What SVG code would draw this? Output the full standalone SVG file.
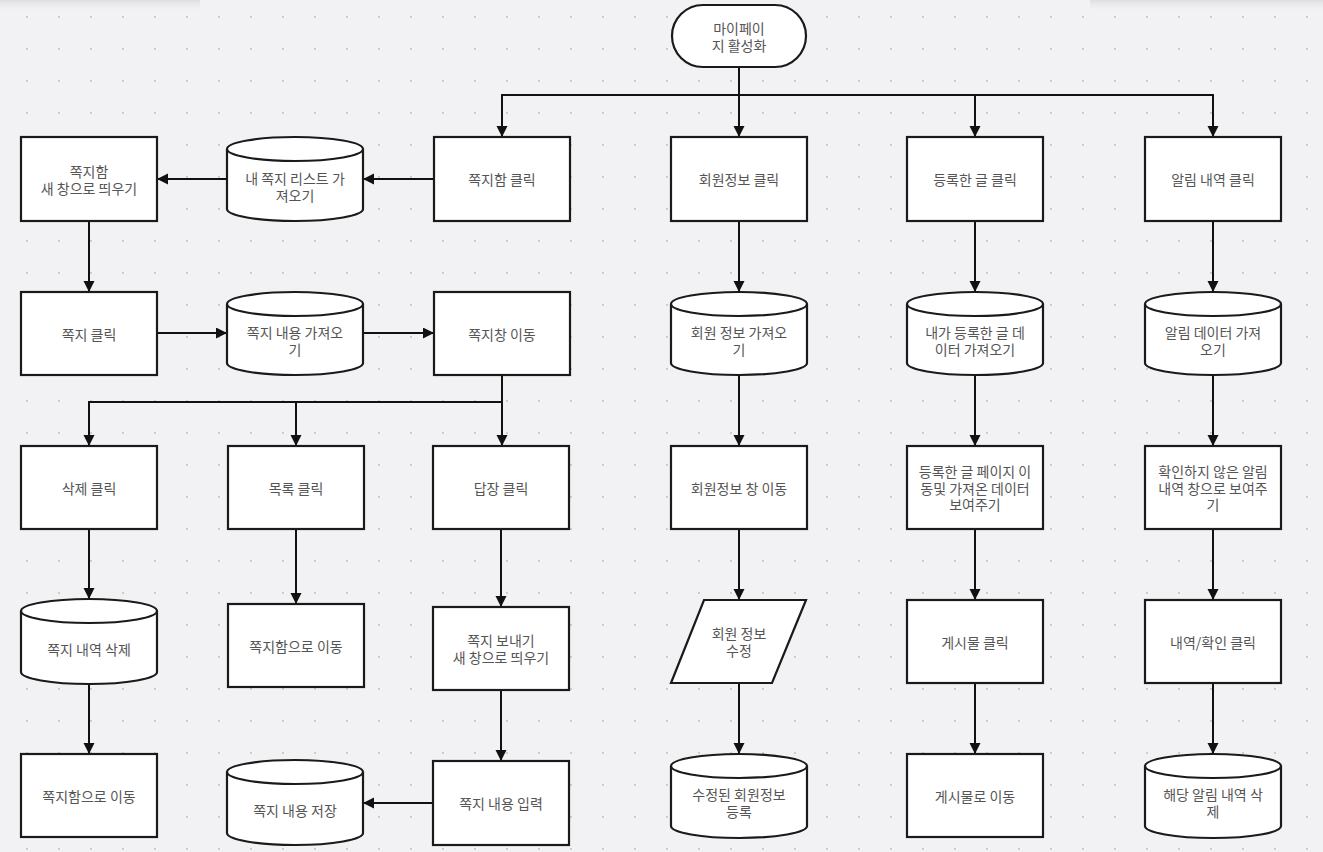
<svg xmlns="http://www.w3.org/2000/svg" width="1323" height="852" viewBox="0 0 1323 852">
<defs>
<pattern id="grid" x="26" y="16" width="32" height="32" patternUnits="userSpaceOnUse">
<rect x="0" y="0" width="2" height="2" fill="#cdcdd1"/>
</pattern>
<linearGradient id="shadeV" x1="0" y1="0" x2="0" y2="1">
<stop offset="0" stop-color="#dcdcdf" stop-opacity="0.9"/>
<stop offset="1" stop-color="#f2f2f4" stop-opacity="0"/>
</linearGradient>
<marker id="arr" markerUnits="userSpaceOnUse" markerWidth="12" markerHeight="12" refX="11" refY="5.5" orient="auto">
<path d="M0,0 L11,5.5 L0,11 Z" fill="#111"/>
</marker>
<style>
.shape{fill:#ffffff;stroke:#1a1a1a;stroke-width:2.2}
.edge{fill:none;stroke:#111;stroke-width:2;marker-end:url(#arr)}
.lbl{font-family:"Noto Sans CJK KR","Noto Sans",sans-serif;font-size:14px;fill:#555;text-anchor:middle;dominant-baseline:central}
</style>
</defs>
<rect width="1323" height="852" fill="#f2f2f4"/>
<rect width="1323" height="852" fill="url(#grid)"/>
<rect x="0" y="0" width="200" height="12" fill="url(#shadeV)"/>
<rect x="1090" y="0" width="233" height="12" fill="url(#shadeV)"/>

<g id="connectors">
<path class="edge" d="M739,67 V95 H502 V137"/>
<path class="edge" d="M739,67 V137"/>
<path class="edge" d="M739,95 H975 V137"/>
<path class="edge" d="M975,95 H1213 V137"/>
<path class="edge" d="M434,179 H363"/>
<path class="edge" d="M227,179 H157"/>
<path class="edge" d="M89,221 V292"/>
<path class="edge" d="M157,333 H227"/>
<path class="edge" d="M363,333 H434"/>
<path class="edge" d="M502,375 V402 H89 V446"/>
<path class="edge" d="M502,402 H296 V446"/>
<path class="edge" d="M502,375 V446"/>
<path class="edge" d="M89,529 V599"/>
<path class="edge" d="M89,684 V754"/>
<path class="edge" d="M296,529 V604"/>
<path class="edge" d="M501,529 V607"/>
<path class="edge" d="M501,690 V761"/>
<path class="edge" d="M433,803 H363"/>
<path class="edge" d="M739,221 V292"/>
<path class="edge" d="M739,375 V446"/>
<path class="edge" d="M739,529 V600"/>
<path class="edge" d="M739,683 V754"/>
<path class="edge" d="M975,221 V292"/>
<path class="edge" d="M975,375 V446"/>
<path class="edge" d="M975,529 V600"/>
<path class="edge" d="M975,683 V754"/>
<path class="edge" d="M1213,221 V292"/>
<path class="edge" d="M1213,375 V446"/>
<path class="edge" d="M1213,529 V600"/>
<path class="edge" d="M1213,683 V754"/>
</g>

<g id="start">
<rect class="shape" x="672" y="5" width="134" height="62" rx="31" ry="31"/>
<text class="lbl"><tspan x="739" y="27.5">마이페이</tspan><tspan x="739" y="44.5">지 활성화</tspan></text>
</g>

<g id="n-msgbox-new">
<rect class="shape" x="21" y="137" width="136" height="84"/>
<text class="lbl"><tspan x="89" y="170.5">쪽지함</tspan><tspan x="89" y="187.5">새 창으로 띄우기</tspan></text>
</g>
<g id="n-list-fetch">
<path class="shape" d="M227,149 A68,12 0 0 1 363,149 L363,209 A68,12 0 0 1 227,209 Z"/>
<path class="shape" fill="none" style="fill:none" d="M227,149 A68,12 0 0 0 363,149"/>
<text class="lbl"><tspan x="295" y="178">내 쪽지 리스트 가</tspan><tspan x="295" y="195">져오기</tspan></text>
</g>
<g id="n-msgbox-click">
<rect class="shape" x="434" y="137" width="136" height="84"/>
<text class="lbl" x="502" y="179">쪽지함 클릭</text>
</g>
<g id="n-member-click">
<rect class="shape" x="671" y="137" width="136" height="84"/>
<text class="lbl" x="739" y="179">회원정보 클릭</text>
</g>
<g id="n-posts-click">
<rect class="shape" x="907" y="137" width="136" height="84"/>
<text class="lbl" x="975" y="179">등록한 글 클릭</text>
</g>
<g id="n-alarm-click">
<rect class="shape" x="1145" y="137" width="136" height="84"/>
<text class="lbl" x="1213" y="179">알림 내역 클릭</text>
</g>

<g id="n-msg-click">
<rect class="shape" x="21" y="292" width="136" height="83"/>
<text class="lbl" x="89" y="333.5">쪽지 클릭</text>
</g>
<g id="n-msg-fetch">
<path class="shape" d="M227,304 A68,12 0 0 1 363,304 L363,363 A68,12 0 0 1 227,363 Z"/>
<path class="shape" style="fill:none" d="M227,304 A68,12 0 0 0 363,304"/>
<text class="lbl"><tspan x="295" y="331.5">쪽지 내용 가져오</tspan><tspan x="295" y="348.5">기</tspan></text>
</g>
<g id="n-msg-window">
<rect class="shape" x="434" y="292" width="136" height="83"/>
<text class="lbl" x="502" y="333.5">쪽지창 이동</text>
</g>
<g id="n-member-fetch">
<path class="shape" d="M671,304 A68,12 0 0 1 807,304 L807,363 A68,12 0 0 1 671,363 Z"/>
<path class="shape" style="fill:none" d="M671,304 A68,12 0 0 0 807,304"/>
<text class="lbl"><tspan x="739" y="331.5">회원 정보 가져오</tspan><tspan x="739" y="348.5">기</tspan></text>
</g>
<g id="n-posts-fetch">
<path class="shape" d="M907,304 A68,12 0 0 1 1043,304 L1043,363 A68,12 0 0 1 907,363 Z"/>
<path class="shape" style="fill:none" d="M907,304 A68,12 0 0 0 1043,304"/>
<text class="lbl"><tspan x="975" y="331.5">내가 등록한 글 데</tspan><tspan x="975" y="348.5">이터 가져오기</tspan></text>
</g>
<g id="n-alarm-fetch">
<path class="shape" d="M1145,304 A68,12 0 0 1 1281,304 L1281,363 A68,12 0 0 1 1145,363 Z"/>
<path class="shape" style="fill:none" d="M1145,304 A68,12 0 0 0 1281,304"/>
<text class="lbl"><tspan x="1213" y="331.5">알림 데이터 가져</tspan><tspan x="1213" y="348.5">오기</tspan></text>
</g>

<g id="n-delete-click">
<rect class="shape" x="21" y="446" width="136" height="83"/>
<text class="lbl" x="89" y="487.5">삭제 클릭</text>
</g>
<g id="n-list-click">
<rect class="shape" x="228" y="446" width="136" height="83"/>
<text class="lbl" x="296" y="487.5">목록 클릭</text>
</g>
<g id="n-reply-click">
<rect class="shape" x="433" y="446" width="136" height="83"/>
<text class="lbl" x="501" y="487.5">답장 클릭</text>
</g>
<g id="n-member-window">
<rect class="shape" x="671" y="446" width="136" height="83"/>
<text class="lbl" x="739" y="487.5">회원정보 창 이동</text>
</g>
<g id="n-posts-page">
<rect class="shape" x="907" y="446" width="136" height="83"/>
<text class="lbl"><tspan x="975" y="470.5">등록한 글 페이지 이</tspan><tspan x="975" y="487.5">동및 가져온 데이터</tspan><tspan x="975" y="504">보여주기</tspan></text>
</g>
<g id="n-alarm-show">
<rect class="shape" x="1145" y="446" width="136" height="83"/>
<text class="lbl"><tspan x="1213" y="470.5">확인하지 않은 알림</tspan><tspan x="1213" y="487.5">내역 창으로 보여주</tspan><tspan x="1213" y="504">기</tspan></text>
</g>

<g id="n-msg-delete">
<path class="shape" d="M21,611 A68,12 0 0 1 157,611 L157,672 A68,12 0 0 1 21,672 Z"/>
<path class="shape" style="fill:none" d="M21,611 A68,12 0 0 0 157,611"/>
<text class="lbl" x="89" y="648.5">쪽지 내역 삭제</text>
</g>
<g id="n-to-msgbox-1">
<rect class="shape" x="228" y="604" width="136" height="83"/>
<text class="lbl" x="296" y="645.5">쪽지함으로 이동</text>
</g>
<g id="n-send-new">
<rect class="shape" x="433" y="607" width="136" height="83"/>
<text class="lbl"><tspan x="501" y="640">쪽지 보내기</tspan><tspan x="501" y="657">새 창으로 띄우기</tspan></text>
</g>
<g id="n-member-edit">
<path class="shape" d="M704,600 L806,600 L772,683 L671,683 Z"/>
<text class="lbl"><tspan x="739" y="633">회원 정보</tspan><tspan x="739" y="650">수정</tspan></text>
</g>
<g id="n-post-click">
<rect class="shape" x="907" y="600" width="136" height="83"/>
<text class="lbl" x="975" y="641.5">게시물 클릭</text>
</g>
<g id="n-alarm-confirm">
<rect class="shape" x="1145" y="600" width="136" height="83"/>
<text class="lbl" x="1213" y="641.5">내역/확인 클릭</text>
</g>

<g id="n-to-msgbox-2">
<rect class="shape" x="21" y="754" width="136" height="83"/>
<text class="lbl" x="89" y="795.5">쪽지함으로 이동</text>
</g>
<g id="n-msg-save">
<path class="shape" d="M227,772 A68,12 0 0 1 363,772 L363,833 A68,12 0 0 1 227,833 Z"/>
<path class="shape" style="fill:none" d="M227,772 A68,12 0 0 0 363,772"/>
<text class="lbl" x="295" y="810">쪽지 내용 저장</text>
</g>
<g id="n-msg-input">
<rect class="shape" x="433" y="761" width="136" height="84"/>
<text class="lbl" x="501" y="803">쪽지 내용 입력</text>
</g>
<g id="n-member-save">
<path class="shape" d="M671,766 A68,12 0 0 1 807,766 L807,826 A68,12 0 0 1 671,826 Z"/>
<path class="shape" style="fill:none" d="M671,766 A68,12 0 0 0 807,766"/>
<text class="lbl"><tspan x="739" y="794">수정된 회원정보</tspan><tspan x="739" y="811">등록</tspan></text>
</g>
<g id="n-to-post">
<rect class="shape" x="907" y="754" width="136" height="83"/>
<text class="lbl" x="975" y="795.5">게시물로 이동</text>
</g>
<g id="n-alarm-delete">
<path class="shape" d="M1145,766 A68,12 0 0 1 1281,766 L1281,826 A68,12 0 0 1 1145,826 Z"/>
<path class="shape" style="fill:none" d="M1145,766 A68,12 0 0 0 1281,766"/>
<text class="lbl"><tspan x="1213" y="794">해당 알림 내역 삭</tspan><tspan x="1213" y="811">제</tspan></text>
</g>
</svg>
